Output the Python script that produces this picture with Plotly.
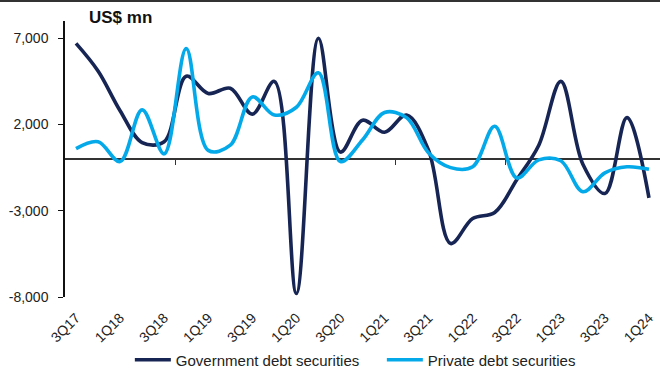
import plotly.graph_objects as go

quarters = ["3Q17", "4Q17", "1Q18", "2Q18", "3Q18", "4Q18", "1Q19", "2Q19", "3Q19", "4Q19",
            "1Q20", "2Q20", "3Q20", "4Q20", "1Q21", "2Q21", "3Q21", "4Q21", "1Q22", "2Q22",
            "3Q22", "4Q22", "1Q23", "2Q23", "3Q23", "4Q23", "1Q24"]
government = [6700, 5100, 2800, 950, 1000, 4800, 3800, 4100, 2600, 4500,
              -7800, 7000, 400, 2250, 1550, 2550, 500, -4900, -3450, -3100,
              -1200, 800, 4500, -300, -2000, 2400, -2250]
private = [600, 1000, -150, 2850, 300, 6400, 500, 800, 3600, 2550,
           3000, 5000, -150, 1100, 2700, 2400, 350, -500, -450, 1900,
           -1100, -50, -100, -1900, -800, -450, -600]

tick_idx = list(range(0, len(quarters), 2))
tick_text = [quarters[i] for i in tick_idx]
minor_ticks = [4.5, 9.5, 14.5, 19.5, 24.5]
y_ticks = [-8000, -3000, 2000, 7000]

x = list(range(len(quarters)))
fig = go.Figure()
fig.add_trace(go.Scatter(x=x, y=government, name="Government debt securities", mode="lines",
                         line=dict(color="#172555", width=3.6, shape="spline", smoothing=1.0)))
fig.add_trace(go.Scatter(x=x, y=private, name="Private debt securities", mode="lines",
                         line=dict(color="#04A9EA", width=3.6, shape="spline", smoothing=1.0)))
fig.add_trace(go.Scatter(x=[0], y=[0], xaxis="x2", mode="markers", marker=dict(opacity=0),
                         showlegend=False, hoverinfo="skip"))

fig.update_layout(
    width=660, height=374,
    margin=dict(l=65, r=0, t=21, b=77, autoexpand=False),
    plot_bgcolor="white", paper_bgcolor="white",
    font=dict(family="Liberation Sans, Arial, sans-serif", size=14, color="#222"),
    xaxis=dict(range=[-0.5, 26.5], tickvals=tick_idx, ticktext=tick_text, tickangle=-45,
               showgrid=False, zeroline=False, showline=False, ticks="", automargin=False,
               ticklabelstandoff=9, tickfont=dict(size=14, color="#222")),
    xaxis2=dict(range=[-0.5, 26.5], overlaying="x", anchor="free", position=0.5,
                tickvals=minor_ticks, showticklabels=False, ticks="outside", ticklen=5,
                tickcolor="#333", showline=True, linecolor="#333", linewidth=1.5,
                showgrid=False, zeroline=False, layer="below traces", automargin=False),
    yaxis=dict(range=[-8000, 8000], tickvals=y_ticks, ticktext=[f"{v:,}" for v in y_ticks],
               showgrid=False, zeroline=False, showline=True, linecolor="#111", linewidth=1.5,
               ticks="outside", ticklen=5, tickcolor="#111", automargin=False,
               ticklabelstandoff=7, tickfont=dict(size=14, color="#222")),
    legend=dict(orientation="h", x=0.109, xanchor="left", y=-0.228, yanchor="middle",
                font=dict(size=15, color="#222"), itemwidth=36, entrywidth=201,
                entrywidthmode="pixels", bgcolor="rgba(0,0,0,0)"),
    annotations=[dict(text="<b>US$ mn</b>", xref="paper", yref="paper", x=0.037, y=1.011,
                      xanchor="left", yanchor="middle", showarrow=False,
                      font=dict(size=17, color="#111"))],
)

frame_js = (
    "document.body.style.margin='0';document.body.style.overflow='hidden';"
    "var b=document.createElement('div');"
    "b.style.cssText='position:fixed;left:0;top:0;width:660px;height:2px;background:#333;z-index:10;pointer-events:none';"
    "document.body.appendChild(b);"
)
fig.write_html("out.html", config={"displayModeBar": False}, post_script=frame_js)
